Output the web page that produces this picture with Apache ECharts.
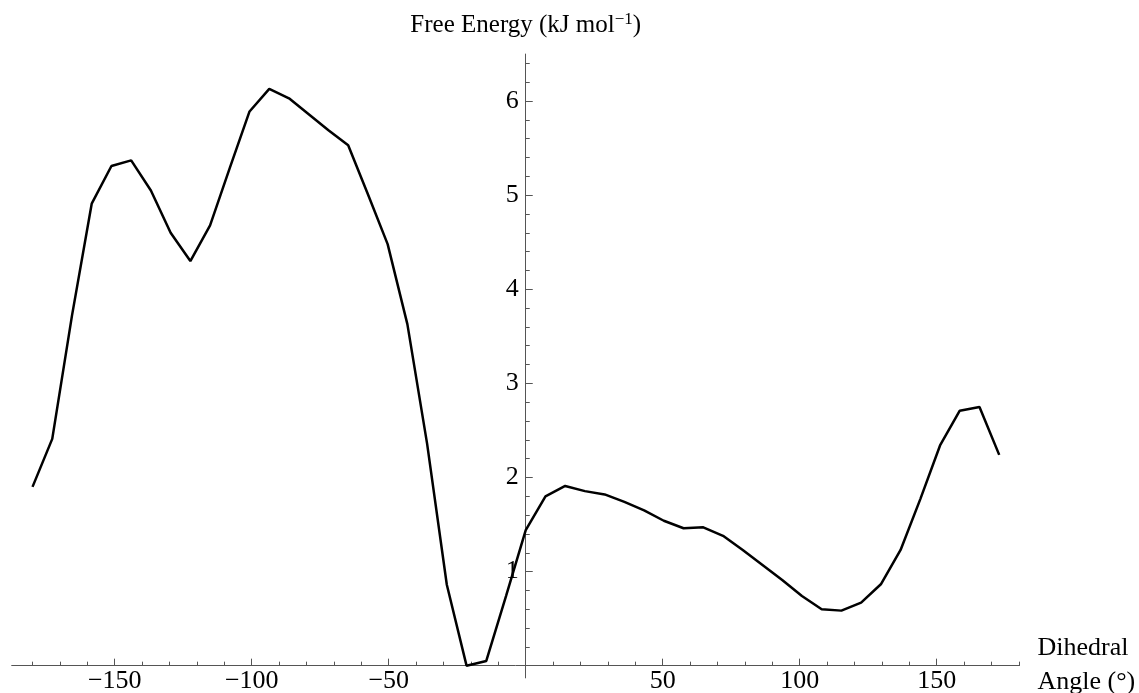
<!DOCTYPE html>
<html><head><meta charset="utf-8">
<script src="https://cdn.jsdelivr.net/npm/echarts@6/dist/echarts.min.js"></script>
<style>html,body{margin:0;padding:0;background:#fff}#c{width:1139px;height:693px}</style>
</head><body><div id="c"></div>
<script>
// Dihedral angle bins (degrees)
const angles = [-180, -172.8, -165.6, -158.4, -151.2, -144, -136.8, -129.6, -122.4, -115.2,
  -108, -100.8, -93.6, -86.4, -79.2, -72, -64.8, -57.6, -50.4, -43.2,
  -36, -28.8, -21.6, -14.4, -7.2, 0, 7.2, 14.4, 21.6, 28.8,
  36, 43.2, 50.4, 57.6, 64.8, 72, 79.2, 86.4, 93.6, 100.8,
  108, 115.2, 122.4, 129.6, 136.8, 144, 151.2, 158.4, 165.6, 172.8];
// Free energy (kJ/mol)
const freeEnergy = [1.90, 2.41, 3.72, 4.91, 5.31, 5.37, 5.05, 4.60, 4.30, 4.68,
  5.29, 5.89, 6.13, 6.03, 5.86, 5.69, 5.53, 5.01, 4.48, 3.63,
  2.36, 0.86, 0.00, 0.05, 0.74, 1.44, 1.80, 1.91, 1.855, 1.82,
  1.74, 1.65, 1.54, 1.46, 1.47, 1.38, 1.23, 1.07, 0.91, 0.74,
  0.60, 0.585, 0.67, 0.865, 1.23, 1.77, 2.34, 2.71, 2.75, 2.24];
const xTickLabels = [-150, -100, -50, 50, 100, 150];
const yTickLabels = [1, 2, 3, 4, 5, 6];
const xAxisTitle = 'Dihedral\nAngle (°)';
const yAxisTitleMain = 'Free Energy (kJ mol';
const yAxisTitleSup = '\u22121';

const serif = '"Liberation Serif","Times New Roman",Times,serif';
const axisColor = '#555';
const chart = echarts.init(document.getElementById('c'), null, {renderer: 'canvas'});
const seriesData = angles.map((a, i) => [a, freeEnergy[i]]);

// grid geometry
const gLeft = 11.7, gRight = 119.5, gTop = 54.05, gBottom = 15.1;
const W = 1139, H = 693;
const xMin = -187.6, xMax = 180.2, yMin = -0.13, yMax = 6.5;
const plotW = W - gLeft - gRight, plotH = H - gTop - gBottom;
// shift axes so they cross at the origin (labels follow the axis lines)
const yAxisShift = -(0 - xMin) / (xMax - xMin) * plotW;
const xAxisShift = -(0 - yMin) / (yMax - yMin) * plotH;

chart.setOption({
  animation: false,
  backgroundColor: '#fff',
  grid: {left: gLeft, right: gRight, top: gTop, bottom: gBottom, containLabel: false, outerBoundsMode: 'none'},
  xAxis: {
    type: 'value', min: xMin, max: xMax, splitNumber: 7, position: 'bottom', offset: xAxisShift,
    axisLine: {show: true, onZero: false, lineStyle: {color: axisColor, width: 1}},
    axisTick: {show: true, inside: true, length: 7, customValues: xTickLabels, lineStyle: {color: axisColor, width: 1}},
    minorTick: {show: true, splitNumber: 5, length: 4, lineStyle: {color: axisColor, width: 1}},
    splitLine: {show: false}, minorSplitLine: {show: false},
    axisLabel: {customValues: xTickLabels, formatter: v => (v < 0 ? '\u2212' : '') + Math.abs(v),
      fontFamily: serif, fontSize: 26, color: '#000', margin: 3},
    name: xAxisTitle, nameLocation: 'end', nameGap: 18, nameMoveOverlap: false,
    nameTextStyle: {fontFamily: serif, fontSize: 26, color: '#000', lineHeight: 34, align: 'left', padding: [0, 0, 13, 0]}
  },
  yAxis: {
    type: 'value', min: yMin, max: yMax, splitNumber: 5, position: 'left', offset: yAxisShift,
    axisLine: {show: true, onZero: false, lineStyle: {color: axisColor, width: 1}},
    axisTick: {show: true, inside: true, length: 7, customValues: yTickLabels, lineStyle: {color: axisColor, width: 1}},
    minorTick: {show: true, splitNumber: 5, length: 4, lineStyle: {color: axisColor, width: 1}},
    splitLine: {show: false}, minorSplitLine: {show: false},
    axisLabel: {customValues: yTickLabels, fontFamily: serif, fontSize: 26, color: '#000', margin: 7},
    name: '{a|' + yAxisTitleMain + '}{s|' + yAxisTitleSup + '}{a|)}',
    nameLocation: 'end', nameGap: 14, nameMoveOverlap: false,
    nameTextStyle: {fontFamily: serif, fontSize: 25, color: '#000',
      rich: {a: {fontFamily: serif, fontSize: 25, color: '#000'},
             s: {fontFamily: serif, fontSize: 17, color: '#000', padding: [0, 0, 12, 0]}}}
  },
  series: [{
    type: 'line', data: seriesData, showSymbol: false, symbol: 'none',
    lineStyle: {color: '#000', width: 2.5}, clip: false, z: 3
  }]
});
</script>
</body></html>
